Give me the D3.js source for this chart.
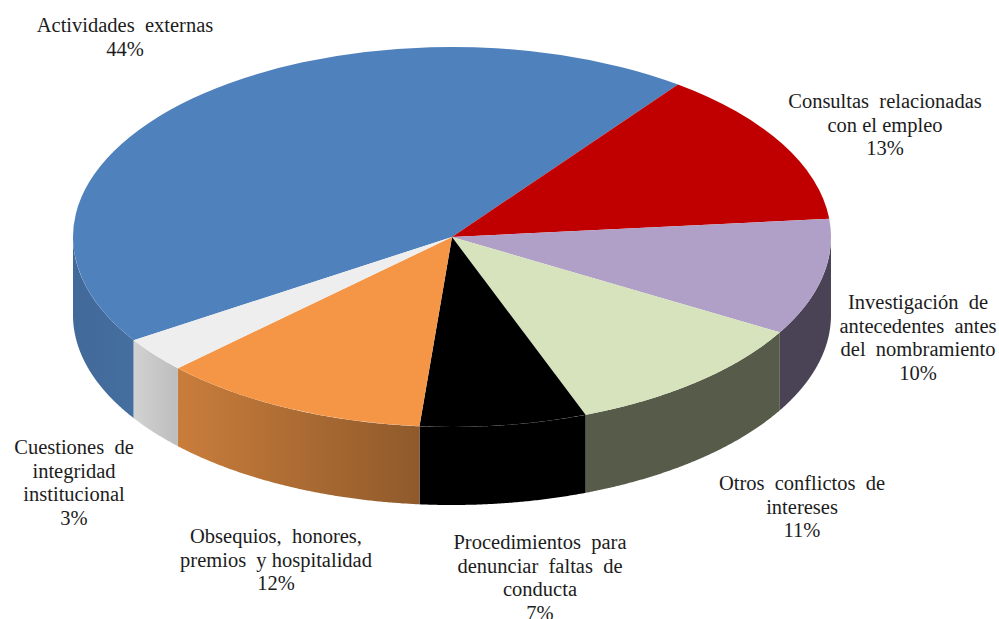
<!DOCTYPE html>
<html><head><meta charset="utf-8">
<script src="https://cdnjs.cloudflare.com/ajax/libs/d3/7.8.5/d3.min.js"></script>
<style>html,body{margin:0;background:#fff}svg{display:block}
text{font-family:"Liberation Serif",serif;font-size:20.5px;fill:#1c1c1c;text-anchor:middle}</style>
</head><body><svg id="c" width="999" height="619"></svg>
<script>
const categories=["Actividades externas","Consultas relacionadas con el empleo","Investigación de antecedentes antes del nombramiento","Otros conflictos de intereses","Procedimientos para denunciar faltas de conducta","Obsequios, honores, premios y hospitalidad","Cuestiones de integridad institucional"];
const values=[44.3,13.3,9.9,10.9,7.1,11.5,3.0];
const labelLines=[["Actividades  externas"],["Consultas  relacionadas","con el empleo"],["Investigación  de","antecedentes  antes","del  nombramiento"],["Otros  conflictos  de","intereses"],["Procedimientos  para","denunciar  faltas  de","conducta"],["Obsequios,  honores,","premios  y hospitalidad"],["Cuestiones  de","integridad","institucional"]];
const topColors=["#4f81bd","#c00000","#b09fc6","#d7e3bc","#000000","#f59647","#eeeeee"];
const sideStart=["#41699a","#900000","#4a4255","#575b49","#000000","#c97d3b","#d2d2d2"];
const sideEnd=["#456f9f","#900000","#4a4255","#575b49","#000000","#8f5a2b","#bdbdbd"];
const labelX=[125,885,918,802,540,276,74];
const labelY=[26,102,303,484,543,537,448];
const boundaryDeg=36.6, depth=78;

const svg=d3.select("#c"), defs=svg.append("defs");
const x=d3.scaleLinear().domain([-1,1]).range([73,831]);
const y=d3.scaleLinear().domain([-1,1]).range([47,427]);
const cx=x(0), cy=y(0), R=x(1)-x(0), squash=(y(1)-y(0))/R;
const rad=d=>d*Math.PI/180;
const firstShare=values[0]/d3.sum(values)*360;
const pie=d3.pie().sort(null).startAngle(rad(boundaryDeg-firstShare)).endAngle(rad(boundaryDeg-firstShare+360));
const arcs=pie(values);

// side walls
const side=d3.area().x(a=>x(Math.sin(a))).y0(a=>y(-Math.cos(a))).y1(a=>y(-Math.cos(a))+depth);
const lo=Math.PI/2, hi=3*Math.PI/2;
const gSide=svg.append("g");
arcs.forEach((d,i)=>{
  let a0=d.startAngle, a1=d.endAngle;
  while(a0<0){a0+=2*Math.PI;a1+=2*Math.PI;}
  const from=Math.max(a0,lo), to=Math.min(a1,hi);
  if(to<=from) return;
  const n=Math.ceil((to-from)/0.005);
  const pts=d3.range(n+1).map(k=>from+(to-from)*k/n);
  const xs=pts.map(a=>x(Math.sin(a)));
  const id="sg"+i;
  const g=defs.append("linearGradient").attr("id",id).attr("gradientUnits","userSpaceOnUse")
    .attr("x1",d3.min(xs)).attr("x2",d3.max(xs)).attr("y1",0).attr("y2",0);
  g.append("stop").attr("offset",0).attr("stop-color",sideStart[i]);
  g.append("stop").attr("offset",1).attr("stop-color",sideEnd[i]);
  gSide.append("path").attr("d",side(pts)).attr("fill",`url(#${id})`);
});

// top faces
const arc=d3.arc().innerRadius(0).outerRadius(R);
svg.append("g").attr("transform",`translate(${cx},${cy}) scale(1,${squash})`)
  .selectAll("path").data(arcs).join("path").attr("d",arc)
  .attr("fill",(d,i)=>topColors[i]);

// labels
const fmt=d3.format(".0f");
const lh=23.6;
svg.append("g").selectAll("text").data(categories).join("text")
  .attr("transform",(d,i)=>`translate(${labelX[i]},${labelY[i]})`)
  .each(function(d,i){
    const t=d3.select(this);
    const lines=labelLines[i].concat(fmt(values[i])+"%");
    lines.forEach((l,k)=>t.append("tspan").attr("x",0).attr("y",k*lh+6).style("white-space","pre").text(l));
  });
</script></body></html>
